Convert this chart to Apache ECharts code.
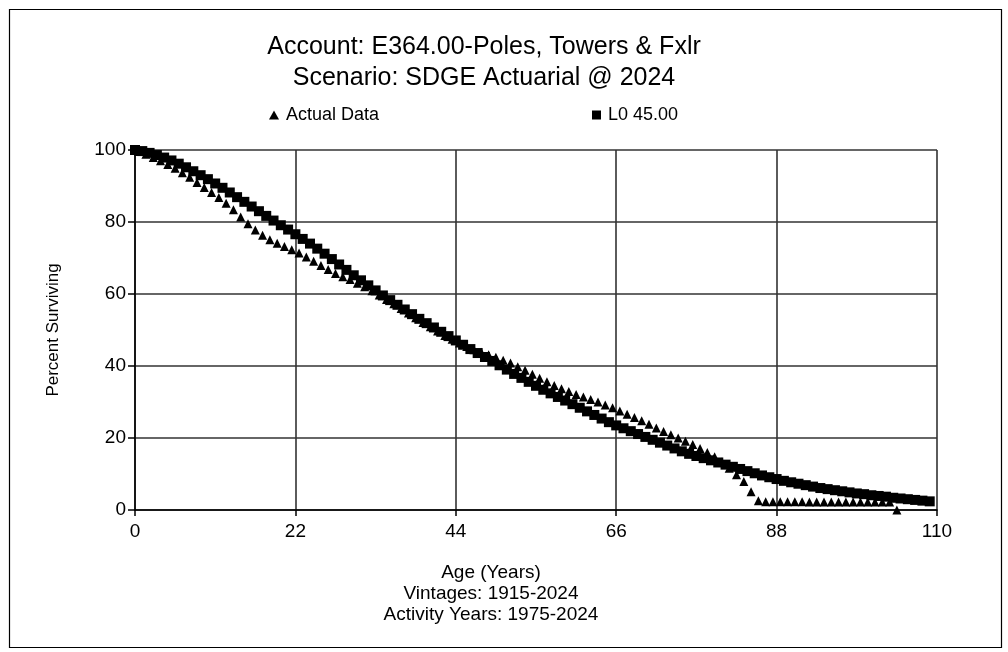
<!DOCTYPE html>
<html>
<head>
<meta charset="utf-8">
<script src="https://cdn.jsdelivr.net/npm/echarts@6/dist/echarts.min.js"></script>
<style>
  html, body { margin: 0; padding: 0; background: #fff; }
  #chart { width: 1008px; height: 652px; }
</style>
</head>
<body>
<div id="chart"></div>
<script>
// Survivor curve: observed retirement data vs fitted Iowa L0 curve (45-year life)
const titleLines = ['Account: E364.00-Poles, Towers & Fxlr', 'Scenario: SDGE Actuarial @ 2024'];
const xNameLines = ['Age (Years)', 'Vintages: 1915-2024', 'Activity Years: 1975-2024'];
const yName = 'Percent Surviving';
const seriesNames = ['Actual Data', 'L0 45.00'];

// Observed data, plotted at age 0 and mid-year ages
const actualAges = [0, 0.5, 1.5, 2.5, 3.5, 4.5, 5.5, 6.5, 7.5, 8.5, 9.5,
  10.5, 11.5, 12.5, 13.5, 14.5, 15.5, 16.5, 17.5, 18.5, 19.5,
  20.5, 21.5, 22.5, 23.5, 24.5, 25.5, 26.5, 27.5, 28.5, 29.5,
  30.5, 31.5, 32.5, 33.5, 34.5, 35.5, 36.5, 37.5, 38.5, 39.5,
  40.5, 41.5, 42.5, 43.5, 44.5, 45.5, 46.5, 47.5, 48.5, 49.5,
  50.5, 51.5, 52.5, 53.5, 54.5, 55.5, 56.5, 57.5, 58.5, 59.5,
  60.5, 61.5, 62.5, 63.5, 64.5, 65.5, 66.5, 67.5, 68.5, 69.5,
  70.5, 71.5, 72.5, 73.5, 74.5, 75.5, 76.5, 77.5, 78.5, 79.5,
  80.5, 81.5, 82.5, 83.5, 84.5, 85.5, 86.5, 87.5, 88.5, 89.5,
  90.5, 91.5, 92.5, 93.5, 94.5, 95.5, 96.5, 97.5, 98.5, 99.5,
  100.5, 101.5, 102.5, 103.5, 104.5];
const actualPct = [100, 99.6, 98.8, 97.9, 97.0, 96.0, 94.9, 93.7, 92.4, 91.0, 89.6,
  88.2, 86.8, 85.2, 83.4, 81.4, 79.5, 77.8, 76.3, 75.1, 74.1,
  73.2, 72.3, 71.4, 70.3, 69.1, 67.9, 66.8, 65.7, 64.8, 64.0,
  63.0, 62.0, 60.9, 59.7, 58.5, 57.3, 56.0, 54.7, 53.4, 52.1,
  50.9, 49.7, 48.5, 47.4, 46.4, 45.4, 44.5, 43.8, 43.1, 42.4,
  41.6, 40.8, 39.8, 38.8, 37.7, 36.6, 35.6, 34.6, 33.7, 32.9,
  32.1, 31.4, 30.7, 30.0, 29.2, 28.4, 27.5, 26.6, 25.7, 24.8,
  23.8, 22.8, 21.8, 20.9, 20.0, 19.1, 18.2, 17.1, 16.0, 14.8,
  13.3, 11.6, 9.8, 7.9, 5.1, 2.6, 2.3, 2.3, 2.3, 2.3,
  2.3, 2.3, 2.2, 2.2, 2.2, 2.2, 2.2, 2.2, 2.2, 2.2,
  2.2, 2.2, 2.2, 2.2, 0];

// Fitted L0 curve, one point per year of age
const curveAges = [0, 1, 2, 3, 4, 5, 6, 7, 8, 9,
  10, 11, 12, 13, 14, 15, 16, 17, 18, 19,
  20, 21, 22, 23, 24, 25, 26, 27, 28, 29,
  30, 31, 32, 33, 34, 35, 36, 37, 38, 39,
  40, 41, 42, 43, 44, 45, 46, 47, 48, 49,
  50, 51, 52, 53, 54, 55, 56, 57, 58, 59,
  60, 61, 62, 63, 64, 65, 66, 67, 68, 69,
  70, 71, 72, 73, 74, 75, 76, 77, 78, 79,
  80, 81, 82, 83, 84, 85, 86, 87, 88, 89,
  90, 91, 92, 93, 94, 95, 96, 97, 98, 99,
  100, 101, 102, 103, 104, 105, 106, 107, 108, 109];
const curvePct = [100, 99.7, 99.2, 98.6, 97.9, 97.1, 96.2, 95.2, 94.1, 93.0,
  91.9, 90.7, 89.5, 88.2, 86.9, 85.6, 84.3, 83.0, 81.7, 80.4,
  79.1, 77.9, 76.6, 75.3, 74.0, 72.6, 71.2, 69.7, 68.2, 66.7,
  65.2, 63.8, 62.4, 61.0, 59.6, 58.3, 57.0, 55.7, 54.4, 53.1,
  51.9, 50.7, 49.5, 48.3, 47.1, 45.9, 44.7, 43.6, 42.5, 41.4,
  40.2, 39.0, 37.8, 36.7, 35.6, 34.5, 33.4, 32.4, 31.4, 30.4,
  29.4, 28.4, 27.4, 26.4, 25.4, 24.4, 23.5, 22.7, 21.9, 21.1,
  20.3, 19.5, 18.7, 17.9, 17.1, 16.3, 15.6, 15.0, 14.4, 13.8,
  13.2, 12.6, 12.0, 11.4, 10.8, 10.2, 9.6, 9.1, 8.6, 8.1,
  7.7, 7.3, 6.9, 6.5, 6.1, 5.8, 5.5, 5.2, 4.9, 4.6,
  4.4, 4.1, 3.9, 3.7, 3.4, 3.2, 3.0, 2.8, 2.6, 2.4];

const xTicks = [0, 22, 44, 66, 88, 110];
const yTicks = [0, 20, 40, 60, 80, 100];

const FONT = '"Liberation Sans", Arial, Helvetica, sans-serif';
const INK = '#000';
const GRID_LINE = '#333';

const chart = echarts.init(document.getElementById('chart'), null, { renderer: 'canvas' });

const pairs = (xs, ys) => xs.map((x, i) => [x, ys[i]]);

const option = {
  backgroundColor: '#fff',
  animation: false,
  grid: { left: 135, top: 150, width: 802, height: 360, containLabel: false },
  legend: [
    {
      data: [{ name: seriesNames[0], icon: 'triangle', itemStyle: { color: INK, opacity: 1 } }],
      left: 264, top: 101, itemWidth: 10, itemHeight: 9, itemGap: 4,
      textStyle: { fontFamily: FONT, fontSize: 18, color: INK, padding: [0, 0, 0, 2] },
      selectedMode: false
    },
    {
      data: [{ name: seriesNames[1], icon: 'rect', itemStyle: { color: INK, opacity: 1 } }],
      left: 587, top: 101, itemWidth: 9, itemHeight: 9,
      textStyle: { fontFamily: FONT, fontSize: 18, color: INK, padding: [0, 0, 0, 2] },
      selectedMode: false
    }
  ],
  xAxis: {
    type: 'value', min: xTicks[0], max: xTicks[xTicks.length - 1], interval: 22,
    axisLine: { show: true, onZero: false, lineStyle: { color: INK, width: 1.5 } },
    axisTick: { show: true, length: 6, lineStyle: { color: INK, width: 1.5 } },
    axisLabel: { fontFamily: FONT, fontSize: 19, color: INK, margin: 12 },
    splitLine: { show: true, lineStyle: { color: GRID_LINE, width: 1.6 } }
  },
  yAxis: {
    type: 'value', min: yTicks[0], max: yTicks[yTicks.length - 1], interval: 20,
    name: yName, nameLocation: 'middle', nameRotate: 90, nameGap: 73,
    nameTextStyle: { fontFamily: FONT, fontSize: 17, color: INK },
    axisLine: { show: true, onZero: false, lineStyle: { color: INK, width: 1.5 } },
    axisTick: { show: true, length: 7, lineStyle: { color: INK, width: 1.5 } },
    axisLabel: { fontFamily: FONT, fontSize: 19, color: INK, margin: 9 },
    splitLine: { show: true, lineStyle: { color: GRID_LINE, width: 1.6 } }
  },
  series: [
    {
      name: seriesNames[1], type: 'scatter', symbol: 'rect', symbolSize: 10,
      itemStyle: { color: INK, opacity: 1 }, data: pairs(curveAges, curvePct), z: 2
    },
    {
      name: seriesNames[0], type: 'scatter', symbol: 'triangle', symbolSize: [9, 9],
      itemStyle: { color: INK, opacity: 1 }, data: pairs(actualAges, actualPct), z: 3
    }
  ],
  graphic: [
    {
      type: 'rect', left: 7, top: 7, z: -1, silent: true,
      shape: { width: 992, height: 638 },
      style: { fill: 'none', stroke: INK, lineWidth: 1.2 }
    }
  ]
};

// Title and x-axis caption lines, centred as text blocks
titleLines.forEach((t, i) => {
  option.graphic.push({
    type: 'text', x: 484, y: 47 + i * 31, silent: true,
    style: { text: t, font: '25px ' + FONT, fill: INK, textAlign: 'center', textVerticalAlign: 'middle' }
  });
});
xNameLines.forEach((t, i) => {
  option.graphic.push({
    type: 'text', x: 491, y: 573 + i * 21, silent: true,
    style: { text: t, font: '19px ' + FONT, fill: INK, textAlign: 'center', textVerticalAlign: 'middle' }
  });
});

chart.setOption(option);
</script>
</body>
</html>
